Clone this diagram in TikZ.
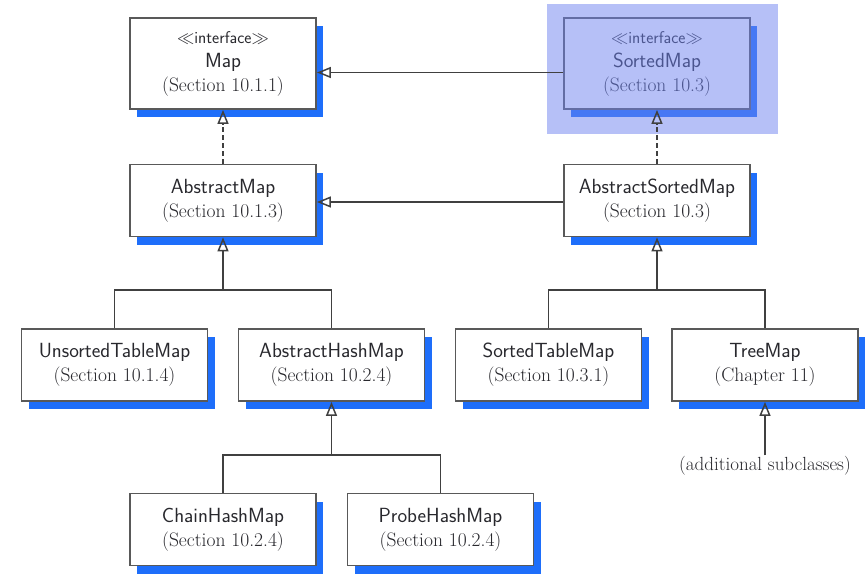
\documentclass[tikz,border=0pt]{standalone}
\usetikzlibrary{arrows.meta,shadows}
\definecolor{shblue}{RGB}{30,110,250}
\definecolor{hlblue}{RGB}{110,130,240}
\definecolor{txt}{RGB}{40,40,45}
\tikzset{
  cls/.style={draw=black!65, line width=1.8pt, fill=white, rectangle, minimum width=186pt,
    minimum height=72pt, align=center, text=txt, inner sep=0pt,
    font=\fontsize{19.5}{24}\selectfont,
    drop shadow={shadow xshift=7pt, shadow yshift=-8pt, fill=shblue, opacity=1}},
  iface/.style={cls, minimum height=91pt},
  inh/.style={draw=black!75, line width=1.8pt, -{Triangle[open,length=14pt,width=11pt,line width=1.5pt]}},
  ln/.style={draw=black!75, line width=1.8pt},
  dsh/.style={inh, dash pattern=on 5pt off 3pt}
}
\newcommand{\cn}[1]{{\sffamily\fontsize{20.5}{24}\selectfont #1}}
\newcommand{\ifc}{{\fontsize{17}{22}\selectfont$\ll$\textsf{interface}$\gg$}}
\begin{document}
\begin{tikzpicture}[x=1pt,y=-1pt]
\useasboundingbox (0,0) rectangle (868,574);
\node[iface] (map) at (223,63.5) {\ifc\\\cn{Map}\\(Section 10.1.1)};
\node[iface] (smap) at (657,63.5) {\ifc\\\cn{SortedMap}\\(Section 10.3)};
\node[cls] (am) at (223,200.5) {\cn{AbstractMap}\\(Section 10.1.3)};
\node[cls] (asm) at (657,200.5) {\cn{AbstractSortedMap}\\(Section 10.3)};
\node[cls] (utm) at (114.5,365) {\cn{UnsortedTableMap}\\(Section 10.1.4)};
\node[cls] (ahm) at (331.5,365) {\cn{AbstractHashMap}\\(Section 10.2.4)};
\node[cls] (stm) at (548.5,365) {\cn{SortedTableMap}\\(Section 10.3.1)};
\node[cls] (tm) at (765,365) {\cn{TreeMap}\\(Chapter 11)};
\node[cls] (chm) at (223,529.5) {\cn{ChainHashMap}\\(Section 10.2.4)};
\node[cls] (phm) at (440.5,529.5) {\cn{ProbeHashMap}\\(Section 10.2.4)};
\node[text=txt, font=\fontsize{19}{24}\selectfont, inner sep=1pt] (add) at (765,466) {(additional subclasses)};
% highlight
\fill[hlblue, opacity=0.5] (547,4) rectangle (778,134);
% connectors
\draw[inh] ([yshift=-9pt]smap.west) -- ([yshift=-9pt]map.east);
\draw[dsh] (am.north) -- (map.south);
\draw[inh] ([yshift=-1.5pt]asm.west) -- ([yshift=-1.5pt]am.east);
\draw[dsh] (asm.north) -- (smap.south);
\coordinate (j1) at (223,290);
\coordinate (j2) at (657,290);
\coordinate (j3) at (331.5,455);
\draw[ln] (utm.north) |- (j1) -| (ahm.north);
\draw[inh] (j1) -- (am.south);
\draw[ln] (stm.north) |- (j2) -| (tm.north);
\draw[inh] (j2) -- (asm.south);
\draw[ln] (chm.north) |- (j3) -| (phm.north);
\draw[inh] (j3) -- (ahm.south);
\draw[inh] (add.north) -- (tm.south);
\end{tikzpicture}
\end{document}
